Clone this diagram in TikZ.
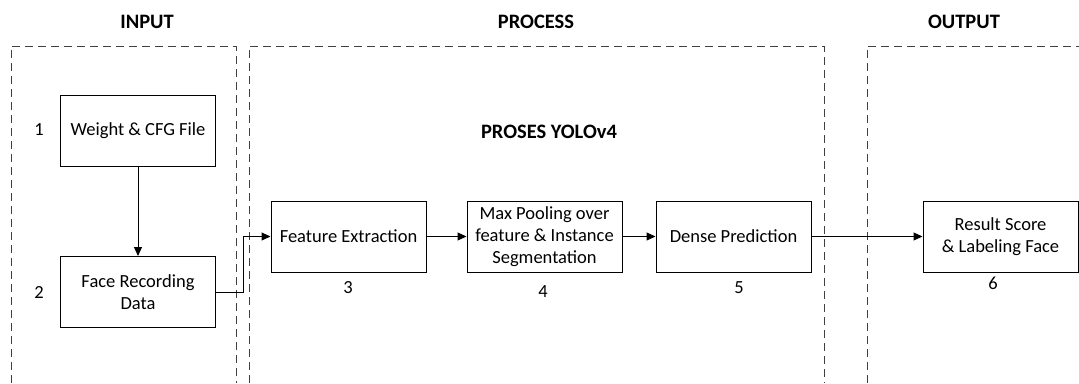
\documentclass[tikz,border=0pt]{standalone}
\usepackage{fontspec}
\setmainfont{Carlito}
\usetikzlibrary{arrows.meta}
\begin{document}
\begin{tikzpicture}[x=1pt, y=-1pt, line width=1pt,
    box/.style={draw, minimum width=155pt, minimum height=71pt, align=center, inner sep=2pt,
        font=\fontsize{18.5}{22}\selectfont},
    num/.style={font=\fontsize{18.5}{22}\selectfont},
    head/.style={font=\fontsize{20.5}{24}\selectfont\bfseries},
    zone/.style={draw=black!75, dash pattern=on 8pt off 5pt},
    arr/.style={-{Triangle[length=9pt, width=8pt]}}]
    \useasboundingbox (0,0) rectangle (1079,383);
    % zones
    \draw[zone] (11,383) -- (11,46) -- (236,46) -- (236,383);
    \draw[zone] (249,383) -- (249,46) -- (824,46) -- (824,383);
    \draw[zone] (867,383) -- (867,46) -- (1079,46);
    \node[head] (input) at (147,22) {INPUT};
    \node[head] (process) at (536,22) {PROCESS};
    \node[head] (output) at (964,22) {OUTPUT};
    \node[head] (yolo) at (549,132) {PROSES YOLOv4};
    % steps
    \node[box] (weight) at (138,131) {Weight \& CFG File};
    \node[box] (face) at (138,292) {Face Recording\\Data};
    \node[box] (feature) at (348.5,236.5) {Feature Extraction};
    \node[box] (pooling) at (544.5,236.5) {Max Pooling over\\feature \& Instance\\Segmentation};
    \node[box] (dense) at (733.5,236.5) {Dense Prediction};
    \node[box] (result) at (1000.5,236.5) {Result Score\\\& Labeling Face};
    \node[num] (n1) at (39,130) {1};
    \node[num] (n2) at (39,292) {2};
    \node[num] (n3) at (348,288) {3};
    \node[num] (n4) at (543,292) {4};
    \node[num] (n5) at (739,288) {5};
    \node[num] (n6) at (993,283) {6};
    % flow
    \draw[arr] (weight) -- (face);
    \draw[arr] (face.east) -| (243,236.5) -- (feature.west);
    \draw[arr] (feature) -- (pooling);
    \draw[arr] (pooling) -- (dense);
    \draw[arr] (dense) -- (result);
\end{tikzpicture}
\end{document}
